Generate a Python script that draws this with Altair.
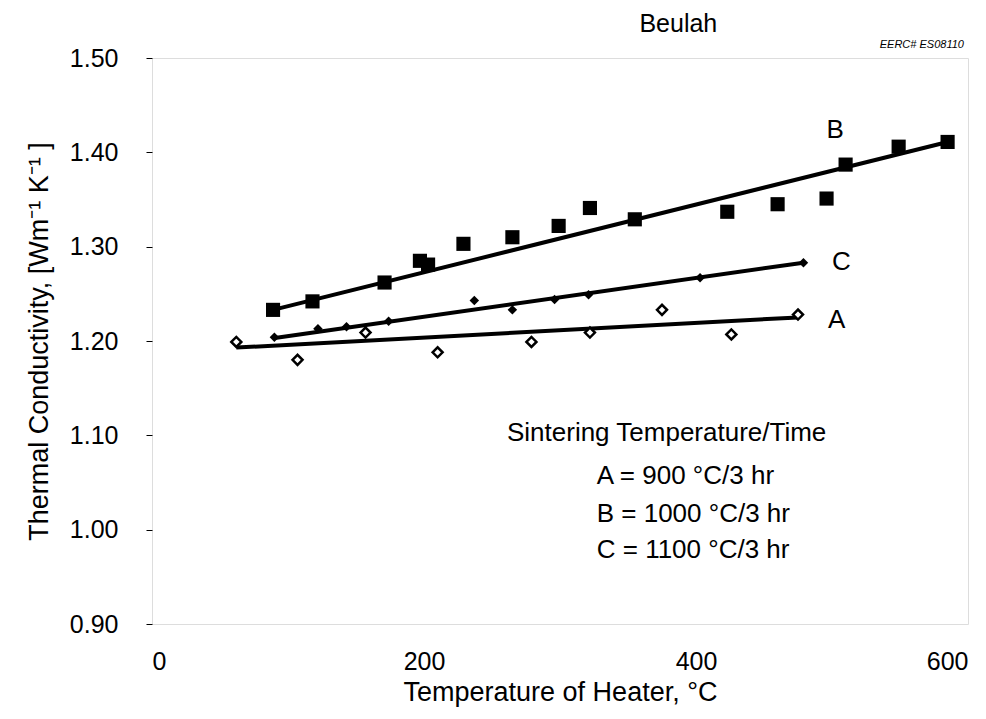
import altair as alt
import pandas as pd

# ---- data ----
A_x = [62, 107, 157, 210, 279, 322, 375, 426, 475]
A_y = [1.199, 1.180, 1.209, 1.188, 1.199, 1.209, 1.233, 1.207, 1.228]

B_x = [89, 118, 171, 197, 203, 229, 265, 299, 322, 355, 423, 460, 496, 510, 549, 585]
B_y = [1.233, 1.242, 1.262, 1.285, 1.281, 1.303, 1.310, 1.322, 1.341, 1.329,
       1.337, 1.345, 1.351, 1.387, 1.406, 1.411]

C_x = [90, 122, 143, 174, 237, 265, 296, 321, 403, 479]
C_y = [1.204, 1.213, 1.215, 1.221, 1.243, 1.233, 1.244, 1.249, 1.267, 1.283]

# fitted lines (end points)
fit_series = ["A", "A", "B", "B", "C", "C"]
fit_x = [62, 475, 89, 585, 89, 479]
fit_y = [1.193, 1.225, 1.233, 1.411, 1.203, 1.283]

# series labels
lab_text = ["B", "C", "A"]
lab_x = [496, 500, 497]
lab_y = [1.424, 1.284, 1.222]

# legend-like annotation
note_text = ["Sintering Temperature/Time", "A = 900 °C/3 hr", "B = 1000 °C/3 hr", "C = 1100 °C/3 hr"]
note_x = [261, 327, 327, 327]
note_y = [1.102, 1.057, 1.017, 0.978]

# title and tag
head_text = ["Beulah"]
head_x = [387]
head_y = [1.536]
tag_text = ["EERC# ES08110"]
tag_x = [597]
tag_y = [1.508]

x_ticks = [0, 200, 400, 600]
y_ticks = [0.90, 1.00, 1.10, 1.20, 1.30, 1.40, 1.50]

FONT = "Liberation Sans"

dfA = pd.DataFrame({"x": A_x, "y": A_y})
dfB = pd.DataFrame({"x": B_x, "y": B_y})
dfC = pd.DataFrame({"x": C_x, "y": C_y})
dfFit = pd.DataFrame({"s": fit_series, "x": fit_x, "y": fit_y})
dfLab = pd.DataFrame({"t": lab_text, "x": lab_x, "y": lab_y})
dfNote = pd.DataFrame({"t": note_text, "x": note_x, "y": note_y})
dfHead = pd.DataFrame({"t": head_text, "x": head_x, "y": head_y})
dfTag = pd.DataFrame({"t": tag_text, "x": tag_x, "y": tag_y})

xs = alt.Scale(domain=[0, 600], nice=False, zero=False)
ys = alt.Scale(domain=[0.9, 1.5], nice=False, zero=False)

X = alt.X("x:Q", scale=xs, axis=alt.Axis(
    values=x_ticks, title="Temperature of Heater, °C", tickSize=0,
    labelPadding=25, titlePadding=5, grid=False, domain=False,
    labelFontSize=25, titleFontSize=27, labelFont=FONT, titleFont=FONT,
    labelColor="black", titleColor="black", titleFontWeight="normal"))
Y = alt.Y("y:Q", scale=ys, axis=alt.Axis(
    values=y_ticks, format=".2f", title="Thermal Conductivity, [Wm⁻¹ K⁻¹ ]",
    tickSize=6, tickColor="black", labelPadding=28, titlePadding=16, grid=False,
    domain=False, labelFontSize=25, titleFontSize=27, labelFont=FONT, titleFont=FONT,
    labelColor="black", titleColor="black", titleFontWeight="normal"))

base_x = alt.X("x:Q", scale=xs)
base_y = alt.Y("y:Q", scale=ys)

fits = alt.Chart(dfFit).mark_line(color="black", strokeWidth=4).encode(
    x=X, y=Y, detail="s:N")

ptsB = alt.Chart(dfB).mark_point(shape="square", filled=True, color="black",
                                 size=200, opacity=1).encode(x=base_x, y=base_y)
ptsC = alt.Chart(dfC).mark_point(shape="diamond", filled=True, color="black",
                                 size=90, opacity=1).encode(x=base_x, y=base_y)
ptsA = alt.Chart(dfA).mark_point(shape="diamond", filled=True, fill="white",
                                 stroke="black", strokeWidth=2.5, size=100,
                                 opacity=1).encode(x=base_x, y=base_y)

labs = alt.Chart(dfLab).mark_text(font=FONT, fontSize=26, align="left",
                                  baseline="middle", color="black").encode(
    x=base_x, y=base_y, text="t:N")
notes = alt.Chart(dfNote).mark_text(font=FONT, fontSize=26, align="left",
                                    baseline="middle", color="black").encode(
    x=base_x, y=base_y, text="t:N")
head = alt.Chart(dfHead).mark_text(font=FONT, fontSize=25, align="center",
                                   baseline="middle", color="black", clip=False).encode(
    x=base_x, y=base_y, text="t:N")
tag = alt.Chart(dfTag).mark_text(font=FONT, fontSize=11, fontStyle="italic",
                                 align="right", baseline="bottom", color="black").encode(
    x=base_x, y=base_y, text="t:N")

chart = alt.layer(fits, ptsB, ptsC, ptsA, labs, notes, head, tag).properties(
    width=816, height=566,
    autosize=alt.AutoSizeParams(type="none"),
    padding={"left": 144, "top": 50, "right": 10, "bottom": 92},
).configure_view(stroke="black", strokeWidth=1.5).configure(background="white")

chart.save("out.html", embed_options={"renderer": "svg", "actions": False})
